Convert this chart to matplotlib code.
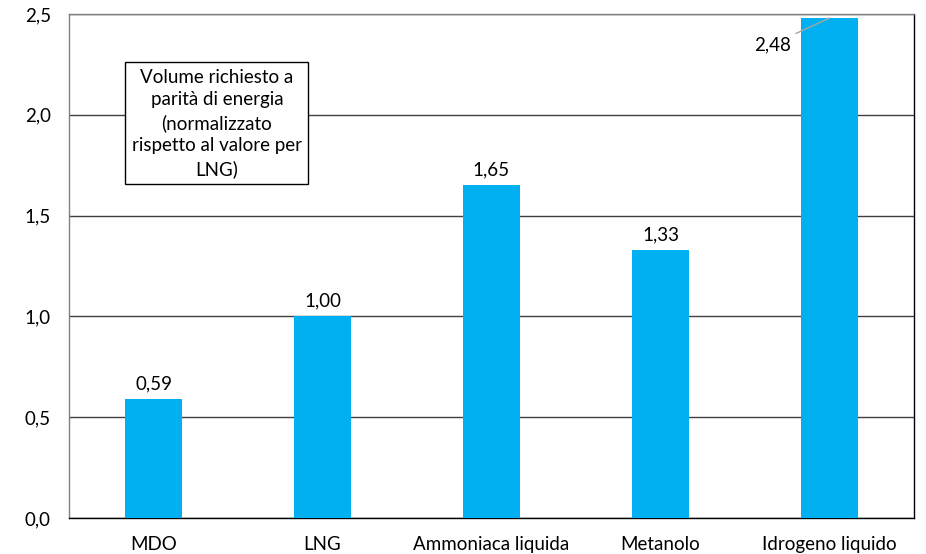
import matplotlib
matplotlib.use("Agg")
import matplotlib.pyplot as plt
from matplotlib.ticker import FuncFormatter

categories = ["MDO", "LNG", "Ammoniaca liquida", "Metanolo", "Idrogeno liquido"]
values = [0.59, 1.00, 1.65, 1.33, 2.48]
yticks = [0.0, 0.5, 1.0, 1.5, 2.0, 2.5]
note = "Volume richiesto a\nparità di energia\n(normalizzato\nrispetto al valore per\nLNG)"

plt.rcParams["font.family"] = ["Lato", "DejaVu Sans"]
FS = 13.5

fig = plt.figure(figsize=(9.26, 5.54), dpi=100)
ax = fig.add_axes([69 / 926, 1 - 518 / 554, 845 / 926, 504 / 554])

x = range(len(categories))
ax.bar(x, values, width=0.34, color="#00B0F0", zorder=3)

ax.set_xlim(-0.5, len(categories) - 0.5)
ax.set_ylim(0, 2.5)
ax.set_yticks(yticks)
ax.yaxis.set_major_formatter(FuncFormatter(lambda v, p: f"{v:.1f}".replace(".", ",")))
ax.set_xticks(list(x))
ax.set_xticklabels(categories)
ax.tick_params(axis="both", length=0, labelsize=FS, colors="#000000")
ax.tick_params(axis="x", pad=13)
ax.tick_params(axis="y", pad=13)

ax.grid(axis="y", color="#404040", linewidth=1.0, zorder=1)
ax.set_axisbelow(True)
for side, col in [("left", "#808080"), ("top", "#808080"), ("bottom", "#000000"), ("right", "#000000")]:
    ax.spines[side].set_color(col)
    ax.spines[side].set_linewidth(1.0)

# value labels: above the bar, except the tallest which sits to the left with a leader line
for i, v in enumerate(values):
    txt = f"{v:.2f}".replace(".", ",")
    if i == len(values) - 1:
        ax.annotate(txt, xy=(i, v), xytext=(-28, -19), textcoords="offset points",
                    ha="right", va="center", fontsize=FS,
                    arrowprops=dict(arrowstyle="-", color="#A6A6A6", lw=1.0,
                                    shrinkA=2, shrinkB=0))
    else:
        ax.annotate(txt, xy=(i, v), xytext=(0, 5), textcoords="offset points",
                    ha="center", va="bottom", fontsize=FS)

ax.text(0.175, 0.783, note, ha="center", va="center", fontsize=FS,
        transform=ax.transAxes, linespacing=1.38, zorder=5,
        bbox=dict(boxstyle="square,pad=0.35", facecolor="white", edgecolor="#000000", lw=1.0))

fig.savefig("out.png", dpi=100)
